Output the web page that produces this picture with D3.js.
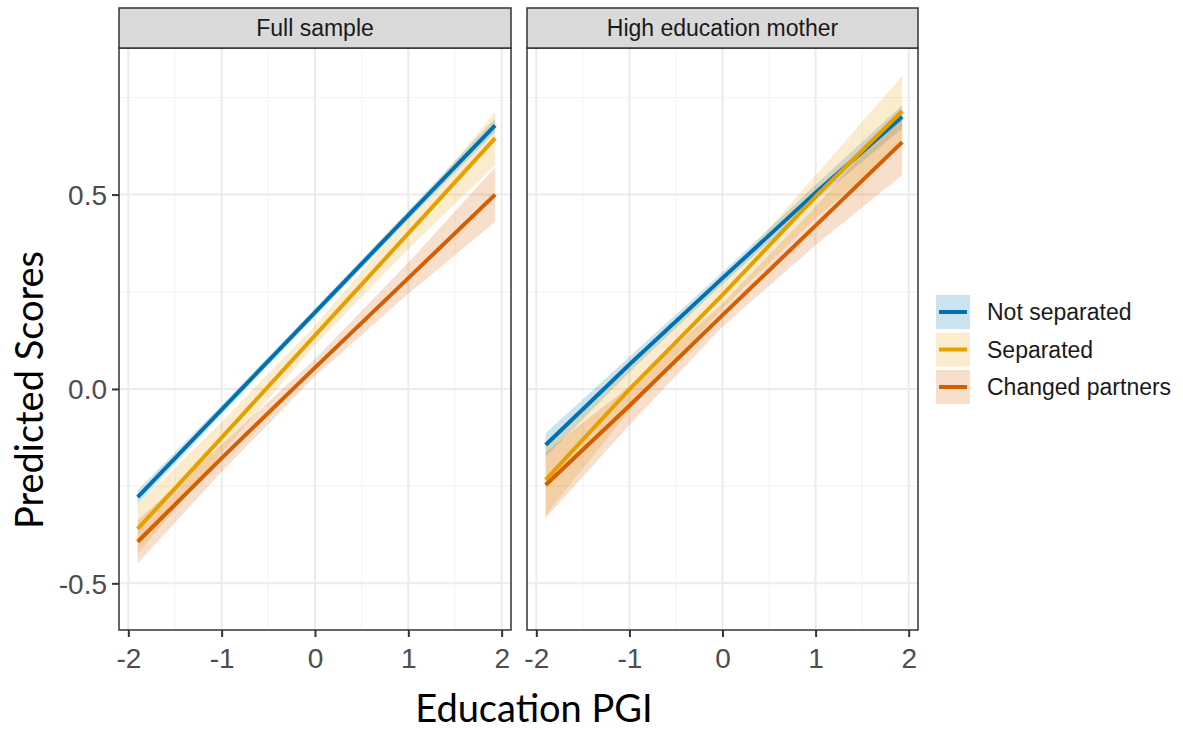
<!DOCTYPE html>
<html>
<head>
<meta charset="utf-8">
<script src="https://cdn.jsdelivr.net/npm/d3@7"></script>
<style>
  body { margin: 0; background: #fff; }
  svg { display: block; }
</style>
</head>
<body>
<div id="chart"></div>
<script>
// Panels, groups and values
var panels = ["Full sample", "High education mother"];
var groups = ["Not separated", "Separated", "Changed partners"];
var colours = ["#0072B2", "#E69F00", "#D55E00"];

var xPoints = [-1.9, -1, 0, 1, 1.93];

// fitted lines, one array per group, per panel
var fitFull = [
  [-0.278, -0.053, 0.197, 0.447, 0.678],
  [-0.360, -0.125, 0.138, 0.400, 0.645],
  [-0.393, -0.178, 0.055, 0.285, 0.500]
];
var fitHigh = [
  [-0.144, 0.063, 0.285, 0.505, 0.700],
  [-0.234, -0.001, 0.242, 0.495, 0.715],
  [-0.247, -0.043, 0.190, 0.420, 0.635]
];
// half widths of the confidence ribbons
var seFull = [
  [0.018, 0.012, 0.010, 0.012, 0.018],
  [0.065, 0.040, 0.025, 0.040, 0.068],
  [0.055, 0.035, 0.022, 0.040, 0.070]
];
var seHigh = [
  [0.030, 0.020, 0.015, 0.020, 0.030],
  [0.090, 0.055, 0.035, 0.055, 0.090],
  [0.085, 0.050, 0.030, 0.050, 0.085]
];

var xTicks = [-2, -1, 0, 1, 2];
var xMinor = [-1.5, -0.5, 0.5, 1.5];
var yTicks = [-0.5, 0.0, 0.5];
var yMinor = [-0.25, 0.25, 0.75];

var width = 1183, height = 730;
var panelTop = 48, panelBottom = 630, stripTop = 8;
var panelX = [[119, 511], [527, 918]];
var labelFont = "Liberation Sans, Arial, sans-serif";
var titleFont = "Lato, Open Sans, sans-serif";

var svg = d3.select("#chart").append("svg")
    .attr("width", width)
    .attr("height", height);

var y = d3.scaleLinear().domain([-0.62, 0.877]).range([panelBottom, panelTop]);

var fits = [fitFull, fitHigh];
var ses = [seFull, seHigh];

panels.forEach(function(name, p) {
  var x = d3.scaleLinear().domain([-2.1, 2.1]).range(panelX[p]);
  var g = svg.append("g");
  var pw = panelX[p][1] - panelX[p][0];

  g.append("rect")
    .attr("x", panelX[p][0]).attr("y", panelTop)
    .attr("width", pw).attr("height", panelBottom - panelTop)
    .attr("fill", "#fff");

  // grid
  g.selectAll(".xminor").data(xMinor).enter().append("line")
    .attr("x1", d => x(d)).attr("x2", d => x(d))
    .attr("y1", panelTop).attr("y2", panelBottom)
    .attr("stroke", "#f2f2f2").attr("stroke-width", 1);
  g.selectAll(".yminor").data(yMinor).enter().append("line")
    .attr("x1", panelX[p][0]).attr("x2", panelX[p][1])
    .attr("y1", d => y(d)).attr("y2", d => y(d))
    .attr("stroke", "#f2f2f2").attr("stroke-width", 1);
  g.selectAll(".xmajor").data(xTicks).enter().append("line")
    .attr("x1", d => x(d)).attr("x2", d => x(d))
    .attr("y1", panelTop).attr("y2", panelBottom)
    .attr("stroke", "#ebebeb").attr("stroke-width", 2);
  g.selectAll(".ymajor").data(yTicks).enter().append("line")
    .attr("x1", panelX[p][0]).attr("x2", panelX[p][1])
    .attr("y1", d => y(d)).attr("y2", d => y(d))
    .attr("stroke", "#ebebeb").attr("stroke-width", 2);

  // ribbons
  var area = d3.area()
    .x(d => x(d.x))
    .y0(d => y(d.fit - d.se))
    .y1(d => y(d.fit + d.se));
  var line = d3.line().x(d => x(d.x)).y(d => y(d.fit));

  groups.forEach(function(gr, i) {
    var rows = xPoints.map(function(xv, k) {
      return {x: xv, fit: fits[p][i][k], se: ses[p][i][k]};
    });
    g.append("path").attr("d", area(rows))
      .attr("fill", colours[i]).attr("fill-opacity", 0.2);
  });
  groups.forEach(function(gr, i) {
    var rows = xPoints.map(function(xv, k) {
      return {x: xv, fit: fits[p][i][k]};
    });
    g.append("path").attr("d", line(rows))
      .attr("fill", "none").attr("stroke", colours[i]).attr("stroke-width", 4);
  });

  // border
  g.append("rect")
    .attr("x", panelX[p][0]).attr("y", panelTop)
    .attr("width", pw).attr("height", panelBottom - panelTop)
    .attr("fill", "none").attr("stroke", "#333").attr("stroke-width", 1.5);

  // strip
  g.append("rect")
    .attr("x", panelX[p][0]).attr("y", stripTop)
    .attr("width", pw).attr("height", panelTop - stripTop)
    .attr("fill", "#d9d9d9").attr("stroke", "#333").attr("stroke-width", 1.5);
  g.append("text")
    .attr("x", (panelX[p][0] + panelX[p][1]) / 2).attr("y", 36)
    .attr("text-anchor", "middle")
    .style("font-family", labelFont)
    .style("font-size", "23px").style("fill", "#1a1a1a")
    .text(name);

  // x axis
  var xAxis = d3.axisBottom(x).tickValues(xTicks).tickSize(7).tickPadding(4)
    .tickFormat(d3.format("d"));
  var ax = g.append("g").attr("transform", "translate(0," + panelBottom + ")").call(xAxis);
  ax.select(".domain").remove();
  ax.selectAll("line").attr("stroke", "#333").attr("stroke-width", 2);
  ax.selectAll("text")
    .attr("dy", null).attr("y", 38)
    .style("font-family", labelFont)
    .style("font-size", "28px").style("fill", "#4d4d4d")
    .text(d => d < 0 ? "-" + Math.abs(d) : d);

  if (p === 0) {
    var yAxis = d3.axisLeft(y).tickValues(yTicks).tickSize(7).tickPadding(5)
      .tickFormat(d3.format(".1f"));
    var ay = g.append("g").attr("transform", "translate(" + panelX[0][0] + ",0)").call(yAxis);
    ay.select(".domain").remove();
    ay.selectAll("line").attr("stroke", "#333").attr("stroke-width", 2);
    ay.selectAll("text")
      .attr("dy", "0.35em")
      .style("font-family", labelFont)
      .style("font-size", "28px").style("fill", "#4d4d4d")
      .text(d => d < 0 ? "-" + Math.abs(d).toFixed(1) : d.toFixed(1));
  }
});

// axis titles
svg.append("text")
  .attr("x", 534).attr("y", 722)
  .attr("text-anchor", "middle")
  .style("font-family", titleFont)
  .style("font-size", "38px").style("fill", "#000")
  .text("Education PGI");
svg.append("text")
  .attr("transform", "translate(43,390) rotate(-90)")
  .attr("text-anchor", "middle")
  .style("font-family", titleFont)
  .style("font-size", "38px").style("fill", "#000")
  .text("Predicted Scores");

// legend
var legend = svg.append("g").attr("transform", "translate(936,295)");
groups.forEach(function(gr, i) {
  var row = legend.append("g").attr("transform", "translate(0," + (i * 37.5) + ")");
  row.append("rect").attr("width", 34).attr("height", 34)
    .attr("fill", colours[i]).attr("fill-opacity", 0.2);
  row.append("line").attr("x1", 3).attr("x2", 31).attr("y1", 17).attr("y2", 17)
    .attr("stroke", colours[i]).attr("stroke-width", 4);
  row.append("text").attr("x", 51).attr("y", 25)
    .style("font-family", labelFont)
    .style("font-size", "23px").style("fill", "#1a1a1a")
    .text(gr);
});
</script>
</body>
</html>
